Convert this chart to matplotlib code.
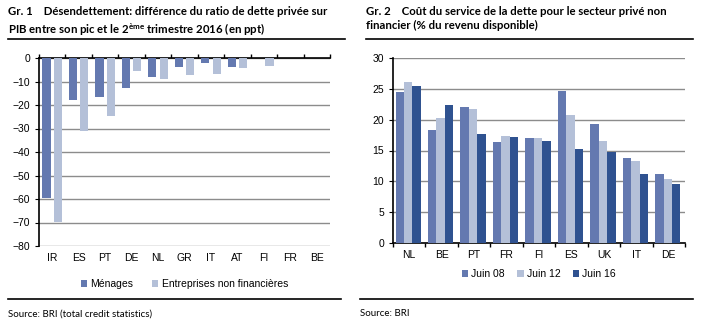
import matplotlib
matplotlib.use('Agg')
import matplotlib.pyplot as plt
import numpy as np
from matplotlib.lines import Line2D

# Gr. 1 : désendettement (ppt)
pays1 = ['IR', 'ES', 'PT', 'DE', 'NL', 'GR', 'IT', 'AT', 'FI', 'FR', 'BE']
menages = [-59.5, -18.0, -16.4, -12.7, -7.9, -3.8, -2.1, -4.0, 0.0, 0.0, 0.0]
entreprises = [-69.7, -31.0, -24.6, -5.5, -8.8, -7.2, -6.6, -4.2, -3.4, 0.0, 0.0]

# Gr. 2 : coût du service de la dette (% du revenu disponible)
pays2 = ['NL', 'BE', 'PT', 'FR', 'FI', 'ES', 'UK', 'IT', 'DE']
juin08 = [24.5, 18.3, 22.0, 16.3, 17.0, 24.7, 19.3, 13.8, 11.2]
juin12 = [26.1, 20.2, 21.7, 17.4, 17.1, 20.8, 16.5, 13.3, 10.3]
juin16 = [25.4, 22.3, 17.7, 17.2, 16.5, 15.2, 14.8, 11.2, 9.6]

c_mid = '#6479B0'
c_light = '#B4C0D8'
c_dark = '#2F5290'
grid_c = '#8C8C8C'

plt.rcParams['font.family'] = ['Liberation Sans', 'DejaVu Sans']
fig = plt.figure(figsize=(7.1, 3.32), dpi=100)

# ---- titres et filets
titre_kw = dict(ha='left', va='top', fontsize=8.2, fontweight='bold', family='Lato',
                linespacing=1.35)
fig.text(8 / 710, 1 - 6 / 332, 'Gr. 1    Désendettement: différence du ratio de dette privée sur\n'
         'PIB entre son pic et le 2$^{\\mathregular{ème}}$ trimestre 2016 (en ppt)', **titre_kw)
fig.text(366 / 710, 1 - 6 / 332, 'Gr. 2    Coût du service de la dette pour le secteur privé non\n'
         'financier (% du revenu disponible)', **titre_kw)
for x0, x1 in [(8, 345), (366, 693)]:
    fig.add_artist(Line2D([x0 / 710, x1 / 710], [1 - 39 / 332] * 2, color='black', lw=1.2))
for x0, x1 in [(8, 341), (360, 693)]:
    fig.add_artist(Line2D([x0 / 710, x1 / 710], [1 - 299 / 332] * 2, color='black', lw=1.2))
fig.text(8 / 710, 1 - 314 / 332, 'Source: BRI (total credit statistics)', ha='left', va='center',
         fontsize=7, family='Lato')
fig.text(360 / 710, 1 - 314 / 332, 'Source: BRI', ha='left', va='center',
         fontsize=7, family='Lato')

# ---- Gr. 1
ax1 = fig.add_axes([39 / 710, 1 - 246 / 332, 291 / 710, 188 / 332])
x = np.arange(len(pays1))
w = 0.31
ax1.bar(x - 0.215, menages, w, color=c_mid, label='Ménages', zorder=3)
ax1.bar(x + 0.215, entreprises, w, color=c_light, label='Entreprises non financières', zorder=3)
ax1.set_xlim(-0.5, len(pays1) - 0.5)
ax1.set_ylim(-80, 0)
ax1.set_yticks(np.arange(-80, 1, 10))
ax1.set_xticks(x)
ax1.set_xticklabels(pays1)
ax1.set_xticks(np.arange(-0.5, len(pays1), 1), minor=True)
ax1.tick_params(axis='x', which='major', length=0, pad=5, labelsize=7.5)
ax1.tick_params(axis='x', which='minor', bottom=False, top=True, direction='out', length=3, width=1)
ax1.tick_params(axis='y', labelsize=7.5, length=3, direction='out')
ax1.yaxis.grid(True, color=grid_c, lw=1)
ax1.set_axisbelow(True)
for s in ['right', 'bottom']:
    ax1.spines[s].set_visible(False)
ax1.spines['top'].set_linewidth(1.2)
ax1.spines['left'].set_linewidth(1.2)
ax1.legend(loc='upper center', bbox_to_anchor=(0.5, -0.125), ncol=2, frameon=False,
           handlelength=0.6, handleheight=0.6, handletextpad=0.3,
           columnspacing=1.8, prop={'family': 'Liberation Sans', 'size': 7.5})

# ---- Gr. 2
ax2 = fig.add_axes([393 / 710, 1 - 243 / 332, 292 / 710, 185 / 332])
x2 = np.arange(len(pays2))
w2 = 0.26
ax2.bar(x2 - w2 - 0.03, juin08, w2, color=c_mid, label='Juin 08', zorder=3)
ax2.bar(x2 - 0.03, juin12, w2, color=c_light, label='Juin 12', zorder=3)
ax2.bar(x2 + w2 - 0.03, juin16, w2, color=c_dark, label='Juin 16', zorder=3)
ax2.set_xlim(-0.5, len(pays2) - 0.5)
ax2.set_ylim(0, 30)
ax2.set_yticks(np.arange(0, 31, 5))
ax2.set_xticks(x2)
ax2.set_xticklabels(pays2)
ax2.set_xticks(np.arange(-0.5, len(pays2), 1), minor=True)
ax2.tick_params(axis='x', which='major', length=0, pad=5, labelsize=7.5)
ax2.tick_params(axis='x', which='minor', bottom=True, direction='out', length=3, width=1)
ax2.tick_params(axis='y', labelsize=7.5, length=3, direction='out')
ax2.yaxis.grid(True, color=grid_c, lw=1)
ax2.set_axisbelow(True)
for s in ['right', 'top']:
    ax2.spines[s].set_visible(False)
ax2.spines['bottom'].set_linewidth(1.2)
ax2.spines['left'].set_linewidth(1.2)
ax2.legend(loc='upper center', bbox_to_anchor=(0.5, -0.09), ncol=3, frameon=False,
           handlelength=0.6, handleheight=0.6, handletextpad=0.3,
           columnspacing=1.2, prop={'family': 'Liberation Sans', 'size': 7.5})

fig.savefig('out.png', dpi=100)
